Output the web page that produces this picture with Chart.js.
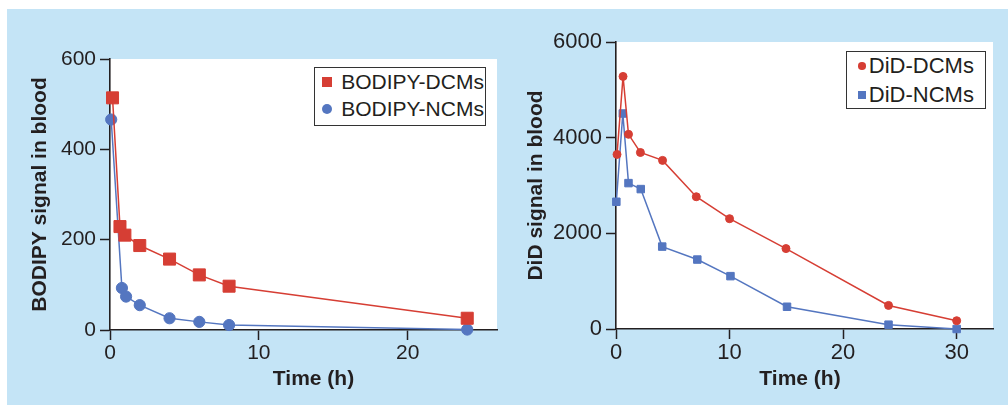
<!DOCTYPE html>
<html>
<head>
<meta charset="utf-8">
<script src="https://cdn.jsdelivr.net/npm/chart.js@4.4.1/dist/chart.umd.min.js"></script>
<style>
body { margin: 0; width: 1008px; height: 405px; background: #fff; position: relative; overflow: hidden; font-family: "Liberation Sans", Arial, sans-serif; }
#bg { position: absolute; left: 7px; top: 9px; width: 1001px; height: 396px; background: #c4e4f6; }
#left { position: absolute; left: 0; top: 0; }
#right { position: absolute; left: 505px; top: 0; }
.legend { position: absolute; border: 1.5px solid #333; background: #fff; box-sizing: border-box; }
.legend .txt { position: absolute; white-space: nowrap; color: #231f20; line-height: 24px; }
.legend .mark { position: absolute; }
.xtitle { position: absolute; width: 200px; text-align: center; font-weight: bold; font-size: 21px; line-height: 26px; color: #231f20; }
</style>
</head>
<body>
<div id="bg"></div>
<canvas id="left" width="505" height="405"></canvas>
<canvas id="right" width="503" height="405"></canvas>
<script>
// ## left panel: BODIPY ##
const bodipyRangeX = [0, 26];
const bodipyRangeY = [0, 600];
const bodipyTicksX = [0, 10, 20];
const bodipyTicksY = [0, 200, 400, 600];
const bodipyLabels = ['BODIPY-DCMs', 'BODIPY-NCMs'];
const bodipyDcmTime = [0.17, 0.67, 1, 2, 4, 6, 8, 24];
const bodipyDcmSignal = [514, 229, 210, 187, 157, 122, 97, 26];
const bodipyNcmTime = [0.08, 0.8, 1.08, 2, 4, 6, 8, 24];
const bodipyNcmSignal = [466, 93, 74, 55, 26, 18, 11, 1];

// ## right panel: DiD ##
const didRangeX = [0, 33.2];
const didRangeY = [0, 6000];
const didTicksX = [0, 10, 20, 30];
const didTicksY = [0, 2000, 4000, 6000];
const didLabels = ['DiD-DCMs', 'DiD-NCMs'];
const didDcmTime = [0.09, 0.62, 1.1, 2.15, 4.1, 7.07, 10, 14.97, 24, 30];
const didDcmSignal = [3650, 5280, 4070, 3690, 3525, 2765, 2306, 1681, 493, 173];
const didNcmTime = [0.03, 0.6, 1.1, 2.18, 4.07, 7.16, 10.08, 15.06, 24, 30];
const didNcmSignal = [2660, 4505, 3050, 2925, 1723, 1452, 1105, 465, 90, 0];

const xTitle = 'Time (h)';
const red = 'rgb(214, 62, 52)';
const blue = 'rgb(84, 118, 192)';
const ink = '#231f20';

Chart.defaults.font.family = '"Liberation Sans", Arial, sans-serif';
Chart.defaults.color = ink;

function toPoints(xs, ys) {
    return xs.map((x, i) => ({ x: x, y: ys[i] }));
}

// white plot area only, page stays blue
const plotBg = {
    id: 'plotBg',
    beforeDraw(chart) {
        const a = chart.chartArea;
        chart.ctx.save();
        chart.ctx.fillStyle = '#fff';
        chart.ctx.fillRect(a.left, a.top, a.right - a.left, a.bottom - a.top);
        chart.ctx.restore();
    }
};

function makeChart(id, o) {
    return new Chart(document.getElementById(id), {
        type: 'scatter',
        data: { datasets: o.datasets },
        plugins: [plotBg],
        options: {
            responsive: false,
            animation: false,
            events: [],
            layout: { autoPadding: false, padding: o.padding },
            plugins: { legend: { display: false }, tooltip: { enabled: false } },
            scales: {
                x: {
                    type: 'linear',
                    min: o.rangeX[0], max: o.rangeX[1],
                    afterFit(s) { s.height = o.xHeight; },
                    afterBuildTicks(s) { s.ticks = o.ticksX.map(v => ({ value: v })); },
                    border: { display: true, color: ink, width: 1.6 },
                    grid: { drawOnChartArea: false, drawTicks: true, tickLength: 10, tickColor: ink, tickWidth: 1.5 },
                    ticks: { font: { size: o.tickSize }, padding: 1, color: ink, callback: v => String(v) }
                },
                y: {
                    type: 'linear',
                    min: o.rangeY[0], max: o.rangeY[1],
                    afterFit(s) { s.width = o.yWidth; },
                    afterBuildTicks(s) { s.ticks = o.ticksY.map(v => ({ value: v })); },
                    border: { display: true, color: ink, width: 1.6 },
                    grid: { drawOnChartArea: false, drawTicks: true, tickLength: 10, tickColor: ink, tickWidth: 1.5 },
                    ticks: { font: { size: o.tickSize }, padding: 4, color: ink, callback: v => String(v) },
                    title: { display: true, text: o.yTitle, color: ink, font: { size: 21, weight: 'bold' }, padding: { top: 0, bottom: 0 } }
                }
            }
        }
    });
}

function series(label, xs, ys, color, style, radius) {
    return {
        label: label,
        data: toPoints(xs, ys),
        showLine: true,
        borderColor: color,
        backgroundColor: color,
        borderWidth: 1.5,
        pointStyle: style,
        pointRadius: radius,
        pointBorderWidth: 1,
        clip: false
    };
}

makeChart('left', {
    padding: { left: 28, top: 59, right: 8, bottom: 15 },
    yWidth: 82, xHeight: 60, tickSize: 21,
    rangeX: bodipyRangeX, rangeY: bodipyRangeY,
    ticksX: bodipyTicksX, ticksY: bodipyTicksY,
    yTitle: 'BODIPY signal in blood',
    datasets: [
        series(bodipyLabels[0], bodipyDcmTime, bodipyDcmSignal, red, 'rect', 8.5),
        series(bodipyLabels[1], bodipyNcmTime, bodipyNcmSignal, blue, 'circle', 5.6)
    ]
});

makeChart('right', {
    padding: { left: 19, top: 42, right: 15, bottom: 15 },
    yWidth: 92, xHeight: 61, tickSize: 22,
    rangeX: didRangeX, rangeY: didRangeY,
    ticksX: didTicksX, ticksY: didTicksY,
    yTitle: 'DiD signal in blood',
    datasets: [
        series(didLabels[0], didDcmTime, didDcmSignal, red, 'circle', 4),
        series(didLabels[1], didNcmTime, didNcmSignal, blue, 'rect', 5.3)
    ]
});

// x titles sit a bit off centre in the original, so they are placed by hand
function makeXTitle(cx, cy) {
    const el = document.createElement('div');
    el.className = 'xtitle';
    el.textContent = xTitle;
    el.style.left = (cx - 100) + 'px';
    el.style.top = (cy - 13) + 'px';
    document.body.appendChild(el);
}
makeXTitle(313.5, 378);
makeXTitle(800, 378);

// legends as html boxes
function makeLegend(box, items) {
    const el = document.createElement('div');
    el.className = 'legend';
    el.style.left = box.x + 'px';
    el.style.top = box.y + 'px';
    el.style.width = box.w + 'px';
    el.style.height = box.h + 'px';
    items.forEach(it => {
        const m = document.createElement('div');
        m.className = 'mark';
        m.style.width = it.size + 'px';
        m.style.height = it.size + 'px';
        m.style.left = (box.markX - box.x - it.size / 2 - 1.5) + 'px';
        m.style.top = (it.cy - box.y - it.size / 2 - 1.5) + 'px';
        m.style.background = it.color;
        if (it.shape === 'circle') m.style.borderRadius = '50%';
        el.appendChild(m);
        const t = document.createElement('div');
        t.className = 'txt';
        t.textContent = it.label;
        t.style.fontSize = box.font + 'px';
        t.style.left = (box.textX - box.x - 1.5) + 'px';
        t.style.top = (it.cy - box.y - 12 - 1.5) + 'px';
        el.appendChild(t);
    });
    document.body.appendChild(el);
}

makeLegend({ x: 314, y: 67, w: 172, h: 59, markX: 327.3, textX: 341.7, font: 21 }, [
    { label: bodipyLabels[0], color: red, shape: 'rect', size: 10, cy: 82.7 },
    { label: bodipyLabels[1], color: blue, shape: 'circle', size: 10.5, cy: 109.7 }
]);

makeLegend({ x: 846, y: 51, w: 140, h: 58, markX: 862.7, textX: 869.3, font: 22 }, [
    { label: didLabels[0], color: red, shape: 'circle', size: 7.5, cy: 66.7 },
    { label: didLabels[1], color: blue, shape: 'rect', size: 7.5, cy: 95.7 }
]);
</script>
</body>
</html>
